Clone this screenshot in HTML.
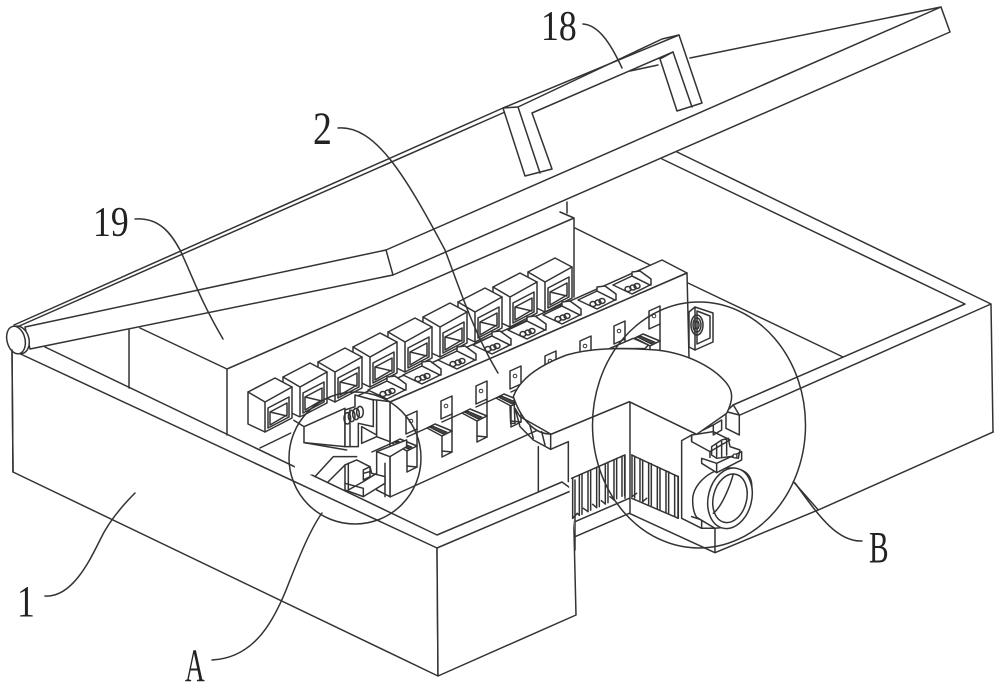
<!DOCTYPE html>
<html><head><meta charset="utf-8"><style>
html,body{margin:0;padding:0;background:#fff}
svg{display:block}
.l{fill:none;stroke:#333;stroke-width:1.5;stroke-linejoin:round;stroke-linecap:round}
.w{fill:#fff;stroke:#333;stroke-width:1.5;stroke-linejoin:round}
.z{fill:none;stroke:#333;stroke-width:4.5;stroke-linejoin:round;stroke-linecap:round}
.zw{fill:#fff;stroke:#333;stroke-width:4.5;stroke-linejoin:round}
.d{fill:#444;stroke:#222;stroke-width:.8}
text{font-family:"Liberation Serif",serif;fill:#222;font-size:42px}
</style></head><body>
<svg width="1000" height="687" viewBox="0 0 1000 687" xmlns="http://www.w3.org/2000/svg">
<defs>
<g id="cube">
<path class="w" d="M248 392L275 378L292 387L292 418L265 432L248 424Z"/>
<path class="l" d="M248 392L265 402L292 387M265 402V432"/>
<path class="l" d="M268 408L289 397V417L268 428ZM270 412L287 403V415L270 425ZM270 412L287 416"/>
</g>
<g id="slot">
<path class="w" d="M613 285L632 276L650 285L632 294Z"/>
<path class="w" d="M632 276L632 272L640 271L651 279V285L650 285L640 280Z"/>
<ellipse class="l" cx="628" cy="289" rx="3" ry="2.5"/>
<ellipse class="l" cx="633" cy="287.500" rx="3" ry="2.5"/>
<ellipse class="l" cx="637" cy="286" rx="3" ry="2.5"/>
</g>
<g id="clip">
<path class="w" d="M0 0L11 -5V13L0 18Z"/>
<circle cx="5" cy="5" r="1.8" fill="none" stroke="#333" stroke-width="1"/>
<path class="w" d="M-14 27L-6 23L11 30L1 35Z"/>
<path class="d" d="M-12 26L-8 25L6 31L2 33Z"/>
<path class="w" d="M1 35L11 30V51L1 56Z"/>
<path class="l" d="M1 50L11 51"/>
<path class="l" d="M-14 27L-34 36M11 13V30"/>
</g>
</defs>

<!-- back rim & interior -->
<path class="l" d="M662 159L965 304L733 405M677 152L991 304L740 415M991 304L993 432M575 228L650 265M688 283L843 357M567 202V213"/>
<path class="l" d="M45 347L437 535L562 482L573 490"/>
<path class="l" d="M129 330V388M140 328L227 369V435M227 369L574 218V297M560 212L574 218"/>
<path class="l" d="M260 448L293 432"/>

<!-- cubes, right to left -->
<use href="#cube" x="280" y="-120"/>
<use href="#cube" x="245" y="-105"/>
<use href="#cube" x="210" y="-90"/>
<use href="#cube" x="175" y="-75"/>
<use href="#cube" x="140" y="-60"/>
<use href="#cube" x="105" y="-45"/>
<use href="#cube" x="70" y="-30"/>
<use href="#cube" x="35" y="-15"/>
<use href="#cube"/>

<!-- bar -->
<path class="w" d="M355 397L662 260L687 273L390 402Z"/>
<path class="w" d="M390 402L687 273L689 358L560 420L390 497Z"/>
<use href="#slot"/>
<use href="#slot" x="-35" y="15"/>
<use href="#slot" x="-70" y="30"/>
<use href="#slot" x="-105" y="45"/>
<use href="#slot" x="-140" y="60"/>
<use href="#slot" x="-175" y="75"/>
<use href="#slot" x="-210" y="90"/>
<use href="#slot" x="-245" y="105"/>
<use href="#clip" x="406" y="416"/>
<use href="#clip" x="441" y="401"/>
<use href="#clip" x="476" y="386"/>
<use href="#clip" x="510" y="371"/>
<use href="#clip" x="545" y="356"/>
<use href="#clip" x="580" y="341"/>
<use href="#clip" x="614" y="326"/>
<use href="#clip" x="649" y="311"/>

<!-- end mount -->
<path class="w" d="M689 312L695 307L713 313V342L695 350L689 347Z"/>
<path class="l" d="M695 307V350M697 311L710 316V338L697 344Z"/>
<ellipse class="l" cx="697" cy="325" rx="6" ry="10"/>
<ellipse class="l" cx="697" cy="325" rx="4" ry="7"/>
<ellipse class="l" cx="697" cy="325" rx="2" ry="4"/>

<!-- detail in circle A -->
<g transform="translate(230 250) scale(.3333)">
<path d="M180 570L190 510L340 450L350 600L340 660L200 680Z" fill="#fff"/>
<path class="zw" d="M190 510L222 530L345 475V590L222 578V530"/>
<path class="z" d="M222 578L350 600"/>
<path class="zw" d="M375 435L430 450V530L385 520V590L345 590V480L375 470Z"/>
<path class="z" d="M360 480V590M395 530L440 555V520M395 530V580L440 560"/>
<g class="z">
<ellipse cx="352" cy="505" rx="10" ry="17"/><ellipse cx="365" cy="498" rx="10" ry="17"/><ellipse cx="378" cy="492" rx="10" ry="17"/><ellipse cx="390" cy="486" rx="10" ry="17"/>
</g>
<path class="zw" d="M440 450L480 455V575L440 560Z"/>
<path class="zw" d="M440 605L530 570V590L480 620V740L440 720Z"/>
<path class="z" d="M440 605L480 620M465 640V740"/>
<path class="z" d="M255 680L310 620H380M295 695L345 645"/>
<path class="zw" d="M345 645L380 630L420 650L425 670L465 680V700L400 740L345 720Z"/>
<path class="z" d="M355 640V720L400 695L440 670M400 660L420 650V680L400 690ZM345 700L400 715V740"/>
<path class="z" d="M400 670L420 665"/>
</g>

<!-- box front -->
<path class="w" d="M12 350L13 472L438 676L437 548Z"/>
<path class="w" d="M437 548L573 490L576 615L438 676Z"/>

<!-- centre / right cut-away -->
<g transform="translate(500 250) scale(.3333)">
<path d="M155 552L388 455L590 553L740 640L755 830L645 908L388 790L225 860L205 690Z" fill="#fff"/>
<path class="z" d="M155 552L388 455L590 553M390 455V790M152 598L205 575V695M115 590V725"/>
<path class="z" d="M225 815L388 745M225 860L388 790M225 690V900"/>
<path class="z" d="M215 685L375 615L375 745M395 615L535 680V805L395 745M388 790L645 908V835M545 572V805L605 835L645 835M545 572L575 555M575 800L605 810V835"/>
<path class="z" d="M218 684V805M238 675V796M246 672V793M264 664V785M272 660V781M290 652V773M298 649V770M316 641V762M324 637V758M342 629V750M350 625V746M366 618V739M374 615V736"/>
<path class="z" d="M396 615V740M404 619V744M420 626V751M428 630V755M446 638V763M454 641V766M472 650V775M480 654V779M498 662V787M506 665V790M524 674V799M534 678V805"/>
<path class="z" d="M218 805L232 790L238 796M264 785L250 775M290 773L278 763M316 762L304 752M342 750L330 740M396 740L410 730M428 755L440 745"/>
<path class="z" d="M645 908L955 780L1480 546"/>
<path class="z" d="M880 695L955 780"/>
<!-- cylinder & ring -->
<path class="zw" d="M670 655C610 670 578 715 578 750C578 775 582 790 590 802L645 835L700 830C740 800 760 750 755 700C750 665 720 650 670 655Z"/>
<ellipse class="zw" cx="690" cy="745" rx="65" ry="92" transform="rotate(14 690 745)"/>
<ellipse class="z" cx="690" cy="745" rx="50" ry="74" transform="rotate(14 690 745)"/>
<path class="z" d="M640 790C665 770 690 710 700 672"/>
<!-- clamp -->
<path class="zw" d="M605 625L650 640L725 605V630L650 668L605 640Z"/>
<path class="z" d="M650 640V668"/>
<path class="zw" d="M575 575L630 605L690 570L640 545L575 555Z"/>
<path class="z" d="M575 555V575M630 605V622"/>
<path class="z" d="M635 590L665 570L685 565L690 590L720 600L715 625L690 620L650 625L635 615ZM650 585V620M665 575V620M680 570V615"/>
<circle cx="705" cy="618" r="6" fill="#fff" stroke="#333" stroke-width="4"/>
<path class="zw" d="M678 485L700 465L718 495V555L678 535Z"/>
<path class="z" d="M678 485L718 495"/>
<!-- cloud break -->
<path d="M40 440C60 385 120 345 200 315C270 295 350 292 470 300C560 310 640 350 680 400C700 425 700 450 680 490L590 553L388 455L155 552C100 555 60 500 40 440Z" fill="#fff" stroke="#333" stroke-width="4.5"/>
<path class="z" d="M30 470L32 520L45 520L42 450M45 475L60 500L152 552V598L100 570L60 530Z"/>
<path class="z" d="M90 528L100 565M125 545L135 585"/>
<path class="z" d="M640 525L665 510V540L640 555ZM610 540L640 525"/>
<path class="zw" d="M330 295L400 265L445 285L435 296Z"/>
</g>

<!-- lid -->
<path class="w" d="M25 327L14 325L503 108L679 35L690 58L941 7L386 250Z" style="stroke:none"/>
<path class="w" d="M25 327L386 250L941 7L950 32L393 275L30 349Z"/>
<path class="l" d="M386 250L393 275M14 325L503 108M17 327L505 112M690 58L941 7"/>
<!-- handle -->
<path class="w" d="M503 108L518 107L662 39L679 35L702 103L677 111L660 59L673 52L532 113L552 169L525 176Z"/>
<path class="l" d="M503 108L679 35M518 107L540 173M673 52L692 107M630 71L658 65"/>
<!-- hinge -->
<ellipse class="w" cx="19" cy="340" rx="10" ry="14" transform="rotate(-14 19 340)"/>
<ellipse class="w" cx="16" cy="340" rx="9" ry="14" transform="rotate(-14 16 340)"/>
<path class="l" d="M12 350L13 472"/>

<!-- magnifier circles -->
<circle class="l" cx="355" cy="458" r="66"/>
<ellipse class="l" cx="699" cy="425" rx="106.5" ry="123"/>

<!-- leaders -->
<path class="l" d="M583 24C598 25 610 42 622 68"/>
<path class="l" d="M135 219C160 217 172 235 180 250C192 275 200 300 223 339"/>
<path class="l" d="M338 128C375 125 405 175 445 250C460 290 475 335 498 373"/>
<path class="l" d="M45 596C72 598 90 560 100 540C107 525 120 508 135 493"/>
<path class="l" d="M212 660C255 658 275 620 290 580C300 555 310 530 322 513"/>
<path class="l" d="M795 483C815 510 835 542 862 541"/>

<!-- labels -->
<text transform="translate(541 40) scale(.85 1)">18</text>
<text transform="translate(93 236) scale(.85 1)">19</text>
<text transform="translate(313 144) scale(.9 1.1)">2</text>
<text transform="translate(17 616) scale(.85 1.05)">1</text>
<text transform="translate(185 681) scale(.65 1.1)">A</text>
<text transform="translate(869 562) scale(.7 1.05)">B</text>
</svg>
</body></html>
